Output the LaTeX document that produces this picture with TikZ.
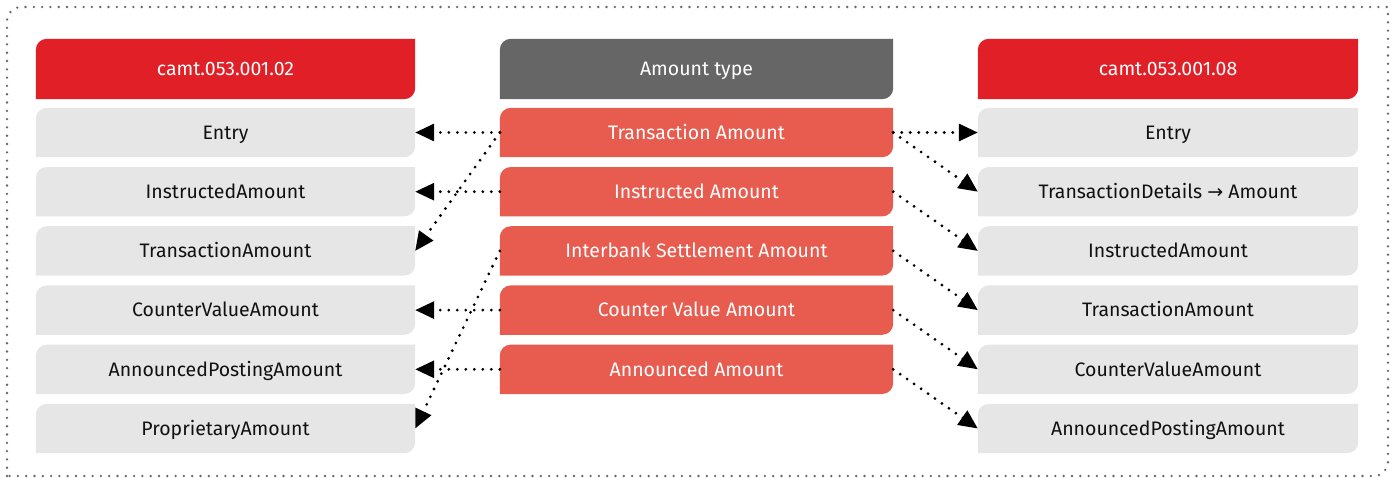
\documentclass[tikz,border=0pt]{standalone}
\usepackage{fontspec}
\setmainfont{Fira Sans}
\usetikzlibrary{arrows.meta,backgrounds}
\definecolor{hdred}{HTML}{E01F26}
\definecolor{hdgray}{HTML}{666666}
\definecolor{rowred}{HTML}{E85C4F}
\definecolor{rowgray}{HTML}{E6E6E6}
\definecolor{txtdark}{HTML}{111111}
\definecolor{bordergray}{HTML}{666666}
\tikzset{
  boxtext/.style={inner sep=0pt, font=\fontsize{19.5}{22}\selectfont, text height=14pt, text depth=0.6pt},
  dotarrow/.style={line width=3.1pt, line cap=round, dash pattern=on 0pt off 8.5pt,
    -{Triangle[length=19pt,width=17pt]}, black},
}
% name, cx, cy, w, h, fill, text color, text
\newcommand\leafbox[8]{%
  \node[boxtext, minimum width=#4pt, minimum height=#5pt, text=#7] (#1) at (#2,#3) {#8};
  \begin{scope}[on background layer]
    \fill[#6] (#1.south west) -- ([yshift=-11pt]#1.north west)
      .. controls ([yshift=-4.9pt]#1.north west) and ([xshift=4.9pt]#1.north west) .. ([xshift=11pt]#1.north west)
      -- (#1.north east) -- ([yshift=11pt]#1.south east)
      .. controls ([yshift=4.9pt]#1.south east) and ([xshift=-4.9pt]#1.south east) .. ([xshift=-11pt]#1.south east) -- cycle;
  \end{scope}}
\begin{document}
\begin{tikzpicture}[x=1pt,y=-1pt]
\useasboundingbox (0,0) rectangle (1395,477);
% outer dotted border
\draw[bordergray, line width=2.6pt, line cap=round, dash pattern=on 0pt off 8.3pt]
  (7,476) -- (7,21) .. controls (7,13.3) and (13.3,7) .. (21,7) -- (1388,7) -- (1388,462)
  .. controls (1388,469.7) and (1381.7,476) .. (1374,476) -- cycle;
% headers
\leafbox{lh}{225.5}{69}{379}{60}{hdred}{white}{camt.053.001.02}
\leafbox{mh}{696.5}{69}{393}{60}{hdgray}{white}{Amount type}
\leafbox{rh}{1168}{69}{380}{60}{hdred}{white}{camt.053.001.08}
% left column
\leafbox{l1}{225.5}{132.5}{379}{49}{rowgray}{txtdark}{Entry}
\leafbox{l2}{225.5}{191.7}{379}{49}{rowgray}{txtdark}{InstructedAmount}
\leafbox{l3}{225.5}{250.9}{379}{49}{rowgray}{txtdark}{TransactionAmount}
\leafbox{l4}{225.5}{310.1}{379}{49}{rowgray}{txtdark}{CounterValueAmount}
\leafbox{l5}{225.5}{369.3}{379}{49}{rowgray}{txtdark}{AnnouncedPostingAmount}
\leafbox{l6}{225.5}{428.5}{379}{49}{rowgray}{txtdark}{ProprietaryAmount}
% middle column
\leafbox{m1}{696.5}{132.5}{393}{49}{rowred}{white}{Transaction Amount}
\leafbox{m2}{696.5}{191.7}{393}{49}{rowred}{white}{Instructed Amount}
\leafbox{m3}{696.5}{250.9}{393}{49}{rowred}{white}{Interbank Settlement Amount}
\leafbox{m4}{696.5}{310.1}{393}{49}{rowred}{white}{Counter Value Amount}
\leafbox{m5}{696.5}{369.3}{393}{49}{rowred}{white}{Announced Amount}
% right column
\leafbox{r1}{1168}{132.5}{380}{49}{rowgray}{txtdark}{Entry}
\leafbox{r2}{1168}{191.7}{380}{49}{rowgray}{txtdark}{TransactionDetails {\fontspec{DejaVu Sans}\fontsize{19}{22}\selectfont →} Amount}
\leafbox{r3}{1168}{250.9}{380}{49}{rowgray}{txtdark}{InstructedAmount}
\leafbox{r4}{1168}{310.1}{380}{49}{rowgray}{txtdark}{TransactionAmount}
\leafbox{r5}{1168}{369.3}{380}{49}{rowgray}{txtdark}{CounterValueAmount}
\leafbox{r6}{1168}{428.5}{380}{49}{rowgray}{txtdark}{AnnouncedPostingAmount}
% left connectors
\draw[dotarrow] (m1.west) -- (l1.east);
\draw[dotarrow] (m1.west) -- (l3.east);
\draw[dotarrow] (m2.west) -- (l2.east);
\draw[dotarrow] (m3.west) -- (l6.east);
\draw[dotarrow] (m4.west) -- (l4.east);
\draw[dotarrow] (m5.west) -- (l5.east);
% right connectors
\draw[dotarrow] (m1.east) -- (r1.west);
\draw[dotarrow] (m1.east) -- (r2.west);
\draw[dotarrow] (m2.east) -- (r3.west);
\draw[dotarrow] (m3.east) -- (r4.west);
\draw[dotarrow] (m4.east) -- (r5.west);
\draw[dotarrow] (m5.east) -- (r6.west);
\end{tikzpicture}
\end{document}
